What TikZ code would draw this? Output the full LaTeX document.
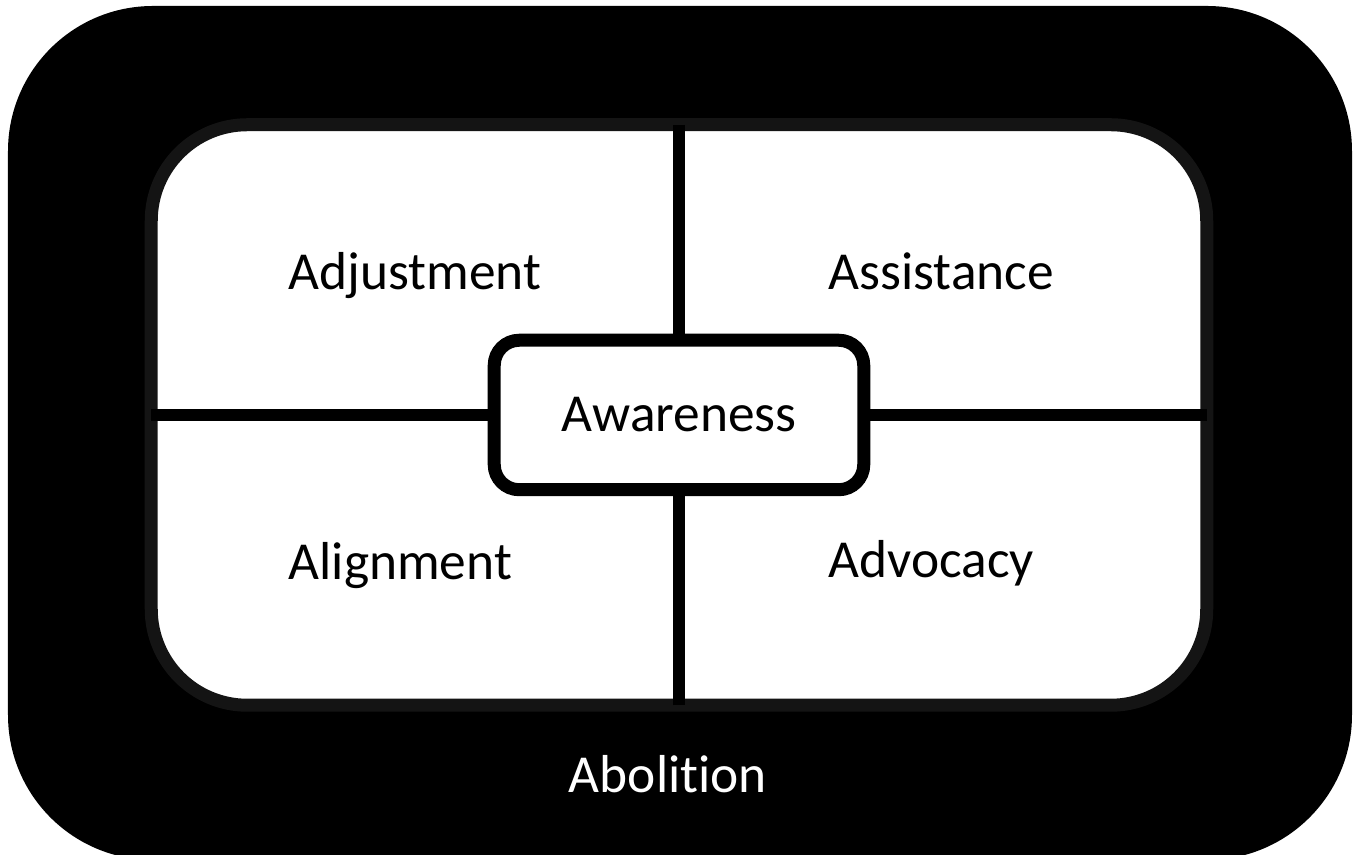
\documentclass[tikz,border=0pt]{standalone}
\usepackage{fontspec}
\setmainfont{Carlito}[Ligatures=NoCommon]
\usepackage{tikz}
\usetikzlibrary{positioning}
\definecolor{framegray}{HTML}{141414}
\tikzset{divider/.style={line width=1.25mm}}
\tikzset{quad/.style={anchor=base west, inner sep=0, font=\fontsize{15.2}{18}\selectfont}}

\begin{document}
\begin{tikzpicture}
\useasboundingbox (0,0) rectangle (13.64,8.55);
\clip (0,0) rectangle (13.64,8.55);
% outer black band
\node[fill=black, rounded corners=1.45cm, inner sep=0, minimum width=13.44cm, minimum height=8.54cm] (ring) at (6.80,4.22) {};
% white field with the four quarters
\node[draw=framegray, fill=white, line width=1.3mm, outer sep=0, rounded corners=0.96cm, minimum width=10.555cm, minimum height=5.805cm] (frame) at (6.79,4.40) {};
\coordinate (mid) at (6.79,4.40);
\draw[divider] (frame.north -| mid) -- (mid);
\draw[divider] (frame.south -| mid) -- (mid);
\draw[divider] (frame.west |- mid) -- (mid);
\draw[divider] (frame.east |- mid) -- (mid);
%\draw (mid) circle (0.1);
\node[draw, fill=white, line width=1.3mm, rounded corners=0.25cm, minimum width=3.695cm, minimum height=1.495cm, font=\fontsize{15.2}{18}\selectfont] (aware) at (mid) {Awareness};
\node[quad] (adj) at (2.88,5.65) {Adjustment};
\node[quad] (ass) at (8.28,5.65) {Assistance};
\node[quad] (ali) at (2.88,2.75) {Alignment};
\node[quad] (adv) at (8.28,2.77) {Advocacy};
\node[anchor=base, text=white, font=\fontsize{15.2}{18}\selectfont] (abo) at (6.68,0.62) {Abolition};
\end{tikzpicture}
\end{document}
